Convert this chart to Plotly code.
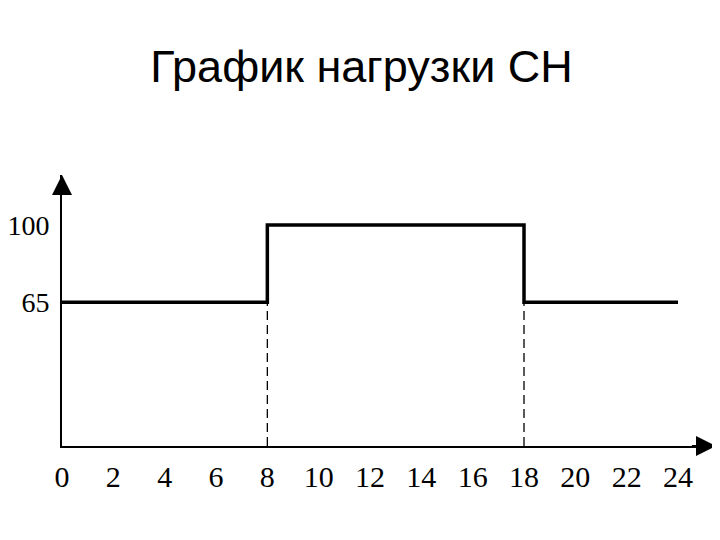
import plotly.graph_objects as go

# Data
hours = [0, 8, 18, 24]
load = [65, 100, 65, 65]
switch_hours = [8, 18]
switch_load = [65, 65]
x_ticks = list(range(0, 25, 2))
y_ticks = [65, 100]
title_text = "График нагрузки СН"

X_MAX = 25.48
Y_MAX = 122.6

fig = go.Figure()

# dashed verticals at switching points
for h, v in zip(switch_hours, switch_load):
    fig.add_trace(go.Scatter(x=[h, h], y=[0, v], mode="lines",
                             line=dict(color="black", width=1.3, dash="9px,5px"),
                             hoverinfo="skip", showlegend=False))

# load step line
fig.add_trace(go.Scatter(x=hours, y=load, mode="lines", line_shape="hv",
                         line=dict(color="black", width=3.5),
                         showlegend=False))

# axis arrows
fig.add_annotation(x=0, y=Y_MAX, ax=0, ay=Y_MAX - 5, xref="x", yref="y",
                   axref="x", ayref="y", showarrow=True, text="",
                   arrowhead=2, arrowsize=2, arrowwidth=2, arrowcolor="black")
fig.add_annotation(x=X_MAX, y=0, ax=X_MAX - 1, ay=0, xref="x", yref="y",
                   axref="x", ayref="y", showarrow=True, text="",
                   arrowhead=2, arrowsize=2, arrowwidth=2, arrowcolor="black")

fig.update_layout(
    width=720, height=540,
    paper_bgcolor="white", plot_bgcolor="white",
    margin=dict(l=54, r=12, t=167, b=102, autoexpand=False),
    title=dict(text=title_text, x=0.491, xanchor="center", y=1 - 58 / 540,
               yanchor="middle", yref="container",
               font=dict(family="Liberation Sans, Arial", size=45, color="black")),
    xaxis=dict(range=[0, X_MAX], tickvals=x_ticks, ticktext=[str(t) for t in x_ticks],
               showgrid=False, zeroline=False, showline=True, linecolor="black",
               linewidth=2, ticks="", ticklabelstandoff=3, automargin=False,
               tickfont=dict(family="Liberation Serif, Times New Roman", size=30, color="black")),
    yaxis=dict(range=[0, Y_MAX], tickvals=y_ticks, ticktext=[str(t) for t in y_ticks],
               showgrid=False, zeroline=False, showline=True, linecolor="black",
               linewidth=2, ticks="", ticklabelstandoff=5, automargin=False,
               tickfont=dict(family="Liberation Serif, Times New Roman", size=28, color="black")),
)

fig.write_html("out.html")
